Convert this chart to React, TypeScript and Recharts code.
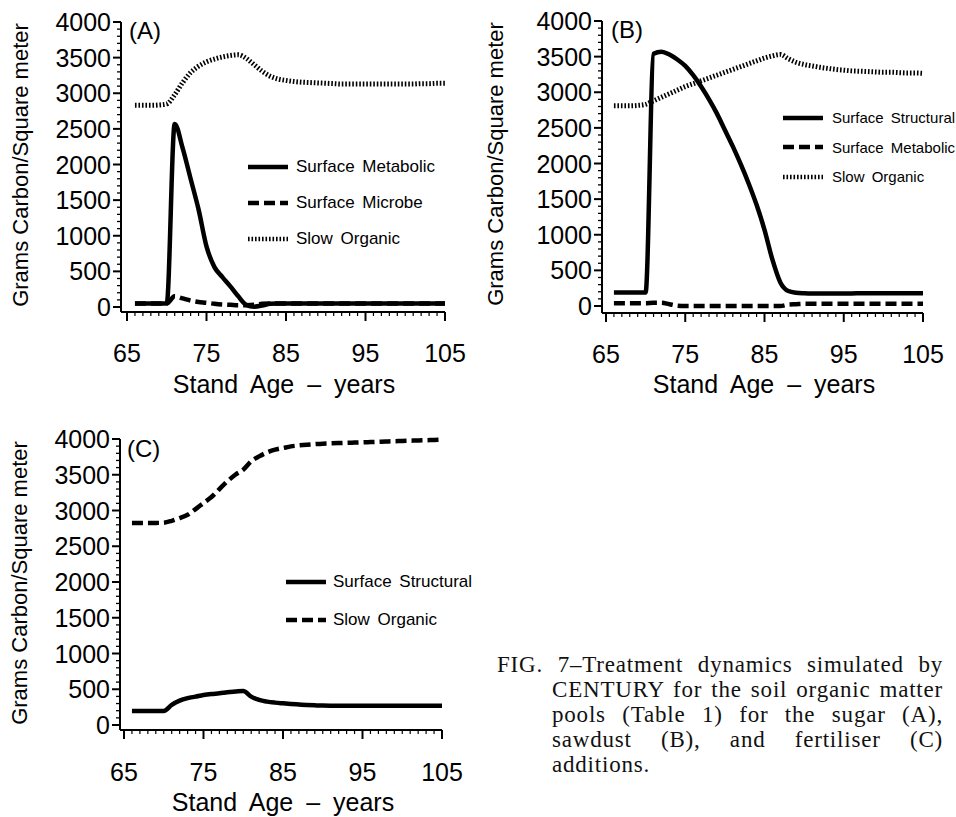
import React from "react";
import {
  LineChart, Line, XAxis, YAxis, Legend, Label,
} from "recharts";

// stand age, years
const years = [
  66, 67, 68, 69, 70, 71, 72, 73, 74, 75, 76, 77, 78, 79, 80, 81, 82, 83, 84, 85,
  86, 87, 88, 89, 90, 91, 92, 93, 94, 95, 96, 97, 98, 99, 100, 101, 102, 103, 104, 105,
];

// (A) sugar
const sugarMetabolic = [
  50, 50, 50, 50, 50, 2570, 2230, 1800, 1370, 850, 560, 420, 290, 150, 30, 5, 20, 45, 50, 50,
  50, 50, 50, 50, 50, 50, 50, 50, 50, 50, 50, 50, 50, 50, 50, 50, 50, 50, 50, 50,
];
const sugarMicrobe = [
  50, 50, 50, 50, 50, 150, 120, 90, 70, 60, 45, 35, 30, 25, 25, 30, 45, 50, 50, 50,
  50, 50, 50, 50, 50, 50, 50, 50, 50, 50, 50, 50, 50, 50, 50, 50, 50, 50, 50, 50,
];
const sugarSlow = [
  2830, 2830, 2830, 2835, 2850, 2980, 3150, 3290, 3380, 3440, 3480, 3510, 3530, 3540, 3490, 3400, 3310, 3240, 3200, 3180,
  3165, 3155, 3150, 3145, 3140, 3135, 3130, 3130, 3130, 3130, 3130, 3130, 3130, 3130, 3130, 3130, 3135, 3135, 3140, 3140,
];

// (B) sawdust
const sawdustStructural = [
  190, 190, 190, 190, 190, 3540, 3570, 3530, 3460, 3370, 3240, 3080, 2900, 2700, 2470, 2240, 1990, 1720, 1420, 1070,
  650, 330, 210, 185, 178, 175, 175, 175, 175, 176, 177, 178, 178, 179, 180, 180, 180, 180, 180, 180,
];
const sawdustMetabolic = [
  40, 40, 40, 40, 40, 45, 45, 25, 5, 0, 0, 0, 0, 0, 0, 0, 0, 0, 0, 0,
  0, 0, 20, 25, 30, 30, 30, 30, 30, 30, 30, 30, 30, 30, 30, 30, 30, 30, 30, 30,
];
const sawdustSlow = [
  2810, 2810, 2810, 2815, 2830, 2880, 2930, 2980, 3030, 3080, 3120, 3160, 3200, 3240, 3280, 3320, 3360, 3400, 3440, 3480,
  3510, 3530, 3470, 3420, 3390, 3370, 3350, 3335, 3320, 3310, 3300, 3295, 3290, 3285, 3280, 3280, 3275, 3270, 3270, 3265,
];

// (C) fertiliser
const fertStructural = [
  195, 195, 195, 195, 195, 280, 340, 375, 397, 420, 434, 443, 457, 467, 476, 397, 350, 327, 313, 303,
  294, 287, 280, 275, 271, 270, 270, 270, 270, 270, 270, 270, 270, 270, 270, 270, 270, 270, 270, 270,
];
const fertSlow = [
  2825, 2825, 2825, 2826, 2830, 2856, 2894, 2940, 3020, 3104, 3188, 3300, 3407, 3500, 3570, 3687, 3757, 3813, 3851, 3874,
  3897, 3910, 3920, 3928, 3935, 3939, 3943, 3947, 3950, 3953, 3957, 3961, 3965, 3969, 3972, 3976, 3980, 3983, 3987, 3990,
];

const xTicks = [65, 75, 85, 95, 105];
const xMinorTicks = [
  65, 66, 67, 68, 69, 70, 71, 72, 73, 74, 75, 76, 77, 78, 79, 80, 81, 82, 83, 84, 85,
  86, 87, 88, 89, 90, 91, 92, 93, 94, 95, 96, 97, 98, 99, 100, 101, 102, 103, 104, 105,
];
const yTicks = [0, 500, 1000, 1500, 2000, 2500, 3000, 3500, 4000];
const yMinorTicks = [
  0, 100, 200, 300, 400, 500, 600, 700, 800, 900, 1000, 1100, 1200, 1300, 1400, 1500, 1600, 1700, 1800, 1900, 2000,
  2100, 2200, 2300, 2400, 2500, 2600, 2700, 2800, 2900, 3000, 3100, 3200, 3300, 3400, 3500, 3600, 3700, 3800, 3900, 4000,
];

const SANS = "'Liberation Sans', Arial, Helvetica, sans-serif";
const INK = "#000";

const SOLID = "0";
const DASHED = "11 5";
const DOTTED = "1.6 1.9";

function rows(...series: number[][]) {
  return years.map((yr, i) => {
    const r: Record<string, number> = { year: yr };
    series.forEach((s, k) => { r["s" + k] = s[i]; });
    return r;
  });
}

// ticks drawn by hand so minor ticks get no label and a shorter line
function makeXTick(labelDrop: number) {
  return (props: any) => {
    const { x, y, payload } = props;
    const major = xTicks.includes(payload.value);
    return (
      <g>
        <line x1={x} x2={x} y1={y} y2={y + (major ? 9 : 4)} stroke={INK} strokeWidth={major ? 2 : 1.2} />
        {major && (
          <text x={x} y={y + labelDrop} textAnchor="middle" fontSize={25} fontFamily={SANS} fill={INK}>
            {payload.value}
          </text>
        )}
      </g>
    );
  };
}

function YTick(props: any) {
  const { x, y, payload } = props;
  const major = yTicks.includes(payload.value);
  return (
    <g>
      <line x1={x} x2={x - (major ? 8 : 4)} y1={y} y2={y} stroke={INK} strokeWidth={major ? 2 : 1.3} />
      {major && (
        <text x={x - 10} y={y} dy="0.36em" textAnchor="end" fontSize={25} fontFamily={SANS} fill={INK}>
          {payload.value}
        </text>
      )}
    </g>
  );
}

interface Item { name: string; dash: string; }

interface PanelProps {
  tag: string;
  data: Record<string, number>[];
  items: Item[];
  width: number;
  height: number;
  plot: { left: number; right: number; top: number; bottom: number };
  pad: { x: number; y: number };
  labelDrop: number;
  yTitle: { x: number; y: number };
  xTitle: { x: number; y: number };
  tagPos: { x: number; y: number };
  legend: { left: number; top: number; rowH: number; font: number; gap: number };
}

function Panel(p: PanelProps) {
  const { legend } = p;
  const renderLegend = () => (
    <div style={{ fontFamily: SANS, fontSize: legend.font, color: INK, whiteSpace: "nowrap" }}>
      {p.items.map((it) => (
        <div key={it.name} style={{ display: "flex", alignItems: "center", height: legend.rowH }}>
          <svg width={40} height={10} style={{ marginRight: legend.gap }}>
            <line x1={0} y1={5} x2={40} y2={5} stroke={INK} strokeWidth={4.5}
              strokeDasharray={it.dash === SOLID ? undefined : it.dash} />
          </svg>
          <span style={{ wordSpacing: 3 }}>{it.name}</span>
        </div>
      ))}
    </div>
  );

  return (
    <LineChart
      width={p.width}
      height={p.height}
      data={p.data}
      margin={{ top: p.plot.top, right: p.width - p.plot.right, left: 0, bottom: 0 }}
    >
      <XAxis dataKey="year" type="number" domain={[65, 105]} ticks={xMinorTicks} interval={0}
        height={p.height - p.plot.bottom} padding={{ left: p.pad.x, right: 0 }}
        tickSize={0} tickMargin={0} tickLine={false}
        axisLine={{ stroke: INK, strokeWidth: 2 }}
        tick={makeXTick(p.labelDrop)}>
        <Label content={() => (
          <text x={p.xTitle.x} y={p.xTitle.y} textAnchor="middle" fontSize={25}
            fontFamily={SANS} fill={INK} style={{ wordSpacing: 6 }}>
            Stand Age – years
          </text>
        )} />
      </XAxis>
      <YAxis type="number" domain={[0, 4000]} ticks={yMinorTicks} interval={0}
        width={p.plot.left} padding={{ top: 0, bottom: p.pad.y }}
        tickSize={0} tickMargin={0} tickLine={false}
        axisLine={{ stroke: INK, strokeWidth: 2 }}
        tick={YTick}>
        <Label content={() => (
          <text x={p.yTitle.x} y={p.yTitle.y} textAnchor="middle" fontSize={22}
            fontFamily={SANS} fill={INK} transform={`rotate(-90 ${p.yTitle.x} ${p.yTitle.y})`}>
            Grams Carbon/Square meter
          </text>
        )} />
        <Label content={() => (
          <text x={p.tagPos.x} y={p.tagPos.y} fontSize={24} fontFamily={SANS} fill={INK}>
            {p.tag}
          </text>
        )} />
      </YAxis>
      <Legend layout="vertical" align="center" verticalAlign="middle" content={renderLegend}
        wrapperStyle={{ left: legend.left, top: legend.top, width: "auto" }} />
      {p.items.map((it, k) => (
        <Line key={it.name} type="monotone" dataKey={"s" + k}
          name={it.name} stroke={INK} strokeWidth={it.dash === DOTTED ? 5 : 4.5}
          strokeDasharray={it.dash === SOLID ? undefined : it.dash}
          dot={false} activeDot={false} isAnimationActive={false} />
      ))}
    </LineChart>
  );
}

const captionLines = [
  "FIG. 7–Treatment dynamics simulated by",
  "CENTURY for the soil organic matter",
  "pools (Table 1) for the sugar (A),",
  "sawdust (B), and fertiliser (C)",
  "additions.",
];

export default function App() {
  return (
    <div style={{ position: "absolute", left: 0, top: 0, width: 956, height: 817, background: "#fff" }}>
      <div style={{ position: "absolute", left: 0, top: 0 }}>
        <Panel
          tag="(A)"
          data={rows(sugarMetabolic, sugarMicrobe, sugarSlow)}
          items={[
            { name: "Surface Metabolic", dash: SOLID },
            { name: "Surface Microbe", dash: DASHED },
            { name: "Slow Organic", dash: DOTTED },
          ]}
          width={470} height={410}
          plot={{ left: 121, right: 445, top: 22, bottom: 312 }}
          pad={{ x: 6, y: 5 }}
          labelDrop={50}
          yTitle={{ x: 28, y: 165 }}
          xTitle={{ x: 284, y: 393 }}
          tagPos={{ x: 129, y: 39 }}
          legend={{ left: 248, top: 149, rowH: 36, font: 17, gap: 8 }}
        />
      </div>
      <div style={{ position: "absolute", left: 470, top: 0 }}>
        <Panel
          tag="(B)"
          data={rows(sawdustStructural, sawdustMetabolic, sawdustSlow)}
          items={[
            { name: "Surface Structural", dash: SOLID },
            { name: "Surface Metabolic", dash: DASHED },
            { name: "Slow Organic", dash: DOTTED },
          ]}
          width={486} height={410}
          plot={{ left: 132, right: 453, top: 21, bottom: 313 }}
          pad={{ x: 4, y: 7 }}
          labelDrop={50}
          yTitle={{ x: 33, y: 164 }}
          xTitle={{ x: 294, y: 393 }}
          tagPos={{ x: 141, y: 38 }}
          legend={{ left: 313, top: 103, rowH: 29.5, font: 15, gap: 9 }}
        />
      </div>
      <div style={{ position: "absolute", left: 0, top: 410 }}>
        <Panel
          tag="(C)"
          data={rows(fertStructural, fertSlow)}
          items={[
            { name: "Surface Structural", dash: SOLID },
            { name: "Slow Organic", dash: DASHED },
          ]}
          width={470} height={407}
          plot={{ left: 120, right: 442, top: 29, bottom: 320 }}
          pad={{ x: 4, y: 5 }}
          labelDrop={51}
          yTitle={{ x: 27, y: 173 }}
          xTitle={{ x: 283, y: 401 }}
          tagPos={{ x: 127, y: 47 }}
          legend={{ left: 286, top: 153, rowH: 38, font: 17, gap: 7 }}
        />
      </div>
      <div style={{
        position: "absolute", left: 497, top: 652, width: 446,
        fontFamily: "'Liberation Serif', 'Times New Roman', serif", fontSize: 23, lineHeight: "25px",
        letterSpacing: 0.8, color: "#111",
      }}>
        {captionLines.map((line, i) => (
          <div key={i} style={{
            marginLeft: i === 0 ? 0 : 55,
            textAlign: "justify",
            textAlignLast: i === captionLines.length - 1 ? "left" : "justify",
            whiteSpace: "nowrap",
          }}>{line}</div>
        ))}
      </div>
    </div>
  );
}
